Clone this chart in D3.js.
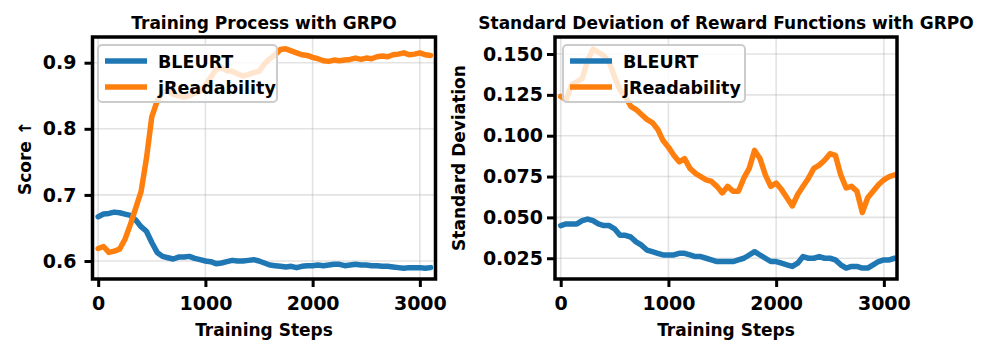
<!DOCTYPE html>
<html>
<head>
<meta charset="utf-8">
<script src="https://cdn.jsdelivr.net/npm/d3@7"></script>
<style>
  html, body { margin: 0; padding: 0; background: #ffffff; }
  svg { display: block; font-family: "DejaVu Sans", sans-serif; font-weight: bold; }
</style>
</head>
<body>
<svg id="chart" width="997" height="357"></svg>
<script>
// ---------------- DATA ----------------
const steps = [0, 50, 100, 150, 200, 250, 300, 350, 400, 450, 500, 550, 600, 650, 700, 750, 800, 850, 900, 950,
  1000, 1050, 1100, 1150, 1200, 1250, 1300, 1350, 1400, 1450, 1500, 1550, 1600, 1650, 1700, 1750, 1800, 1850, 1900, 1950,
  2000, 2050, 2100, 2150, 2200, 2250, 2300, 2350, 2400, 2450, 2500, 2550, 2600, 2650, 2700, 2750, 2800, 2850, 2900, 2950,
  3000, 3050, 3100];

const seriesNames = ["BLEURT", "jReadability"];

// Left panel: training score
const scoreBleurt = [0.667, 0.671, 0.672, 0.674, 0.673, 0.671, 0.669, 0.662, 0.652, 0.645, 0.628, 0.613, 0.607, 0.605, 0.603, 0.606, 0.606, 0.607, 0.604, 0.602,
  0.600, 0.599, 0.596, 0.597, 0.599, 0.601, 0.600, 0.600, 0.601, 0.602, 0.600, 0.597, 0.594, 0.593, 0.592, 0.591, 0.592, 0.590, 0.592, 0.593,
  0.593, 0.594, 0.593, 0.594, 0.595, 0.595, 0.593, 0.594, 0.595, 0.594, 0.594, 0.593, 0.593, 0.592, 0.592, 0.591, 0.590, 0.589, 0.590, 0.590,
  0.590, 0.589, 0.590];
const scoreReadability = [0.619, 0.622, 0.613, 0.615, 0.618, 0.633, 0.655, 0.680, 0.705, 0.755, 0.818, 0.842, 0.855, 0.858, 0.852, 0.850, 0.848, 0.850, 0.854, 0.857,
  0.866, 0.878, 0.890, 0.893, 0.888, 0.887, 0.883, 0.880, 0.882, 0.885, 0.887, 0.898, 0.906, 0.912, 0.920, 0.921, 0.918, 0.915, 0.912, 0.911,
  0.908, 0.906, 0.903, 0.902, 0.904, 0.903, 0.904, 0.905, 0.907, 0.905, 0.907, 0.906, 0.909, 0.910, 0.909, 0.912, 0.913, 0.915, 0.912, 0.913,
  0.915, 0.912, 0.911];

// Right panel: standard deviation of reward functions
const stdBleurt = [0.045, 0.046, 0.046, 0.046, 0.048, 0.049, 0.048, 0.046, 0.045, 0.045, 0.043, 0.039, 0.039, 0.038, 0.035, 0.033, 0.030, 0.029, 0.028, 0.027,
  0.027, 0.027, 0.028, 0.028, 0.027, 0.026, 0.026, 0.025, 0.024, 0.023, 0.023, 0.023, 0.023, 0.024, 0.025, 0.027, 0.029, 0.027, 0.025, 0.023,
  0.023, 0.022, 0.021, 0.020, 0.022, 0.026, 0.025, 0.025, 0.026, 0.025, 0.025, 0.024, 0.021, 0.019, 0.020, 0.020, 0.019, 0.019, 0.021, 0.023,
  0.024, 0.024, 0.025];
const stdReadability = [0.124, 0.122, 0.131, 0.133, 0.135, 0.146, 0.153, 0.151, 0.149, 0.145, 0.136, 0.128, 0.124, 0.118, 0.116, 0.113, 0.110, 0.108, 0.104, 0.097,
  0.093, 0.088, 0.084, 0.086, 0.080, 0.077, 0.075, 0.073, 0.072, 0.069, 0.065, 0.069, 0.066, 0.066, 0.074, 0.080, 0.091, 0.086, 0.076, 0.069,
  0.071, 0.067, 0.062, 0.057, 0.064, 0.069, 0.074, 0.080, 0.082, 0.085, 0.089, 0.088, 0.076, 0.068, 0.069, 0.066, 0.053, 0.062, 0.066, 0.070,
  0.073, 0.075, 0.076];

const xTicks = [0, 1000, 2000, 3000];
const scoreTicks = [0.6, 0.7, 0.8, 0.9];
const stdTicks = [0.025, 0.050, 0.075, 0.100, 0.125, 0.150];

const colors = ["#1f77b4", "#ff7f0e"];

// ---------------- DRAW ----------------
const svg = d3.select("#chart");

function panel(cfg) {
  const g = svg.append("g");
  const x = d3.scaleLinear().domain(cfg.xDomain).range([cfg.left, cfg.right]);
  const y = d3.scaleLinear().domain(cfg.yDomain).range([cfg.bottom, cfg.top]);

  // grid
  g.append("g").selectAll("line").data(xTicks).join("line")
    .attr("x1", d => x(d)).attr("x2", d => x(d))
    .attr("y1", cfg.top).attr("y2", cfg.bottom)
    .attr("stroke", "#b0b0b0").attr("stroke-opacity", 0.35).attr("stroke-width", 1.6);
  g.append("g").selectAll("line").data(cfg.yTicks).join("line")
    .attr("x1", cfg.left).attr("x2", cfg.right)
    .attr("y1", d => y(d)).attr("y2", d => y(d))
    .attr("stroke", "#b0b0b0").attr("stroke-opacity", 0.35).attr("stroke-width", 1.6);

  // lines
  const line = d3.line().x((d, i) => x(steps[i])).y(d => y(d));
  cfg.series.forEach((s, k) => {
    g.append("path").datum(s)
      .attr("fill", "none")
      .attr("stroke", colors[k])
      .attr("stroke-width", 5.5)
      .attr("stroke-linejoin", "round")
      .attr("stroke-linecap", "round")
      .attr("d", line);
  });

  // axes
  const xAxis = d3.axisBottom(x).tickValues(xTicks).tickFormat(d3.format("d")).tickSize(8).tickPadding(10);
  const yAxis = d3.axisLeft(y).tickValues(cfg.yTicks).tickFormat(cfg.yFormat).tickSize(8).tickPadding(cfg.yPad);
  const gx = g.append("g").attr("transform", `translate(0,${cfg.bottom})`).call(xAxis);
  const gy = g.append("g").attr("transform", `translate(${cfg.left},0)`).call(yAxis);
  [gx, gy].forEach(a => {
    a.select(".domain").remove();
    a.selectAll(".tick line").attr("stroke", "#000").attr("stroke-width", 3);
    a.selectAll(".tick text").attr("fill", "#000")
      .style("font-family", "'DejaVu Sans', sans-serif").style("font-weight", "bold").style("font-size", "19px");
  });

  // frame
  g.append("rect")
    .attr("x", cfg.left).attr("y", cfg.top)
    .attr("width", cfg.right - cfg.left).attr("height", cfg.bottom - cfg.top)
    .attr("fill", "none").attr("stroke", "#000").attr("stroke-width", 3.5);

  // title
  g.append("text")
    .attr("x", (cfg.left + cfg.right) / 2).attr("y", cfg.top - 8)
    .attr("text-anchor", "middle").style("font-size", "17px")
    .text(cfg.title);

  // x label
  g.append("text")
    .attr("x", (cfg.left + cfg.right) / 2).attr("y", 336)
    .attr("text-anchor", "middle").style("font-size", "17px")
    .text("Training Steps");

  // y label
  g.append("text")
    .attr("transform", `translate(${cfg.yLabelX},${(cfg.top + cfg.bottom) / 2}) rotate(-90)`)
    .attr("text-anchor", "middle").style("font-size", "17px")
    .text(cfg.yLabel);

  // legend
  const lg = g.append("g");
  lg.append("rect")
    .attr("x", cfg.legendX).attr("y", 45)
    .attr("width", cfg.legendW).attr("height", 57)
    .attr("rx", 4).attr("ry", 4)
    .attr("fill", "#ffffff").attr("fill-opacity", 0.8)
    .attr("stroke", "#cccccc").attr("stroke-width", 2);
  seriesNames.forEach((name, k) => {
    const yy = 61 + k * 26;
    lg.append("line")
      .attr("x1", cfg.legendX + 7).attr("x2", cfg.legendX + 49)
      .attr("y1", yy).attr("y2", yy)
      .attr("stroke", colors[k]).attr("stroke-width", 5.5);
    lg.append("text")
      .attr("x", cfg.legendX + 60).attr("y", yy + 6.5)
      .style("font-size", "17.5px")
      .text(name);
  });
}

panel({
  left: 92.5, right: 435.5, top: 37, bottom: 279,
  xDomain: [-53, 3146], yDomain: [0.5728, 0.9389],
  yTicks: scoreTicks, yFormat: d3.format(".1f"), yPad: 8,
  series: [scoreBleurt, scoreReadability],
  title: "Training Process with GRPO",
  yLabel: "Score \u2191", yLabelX: 31,
  legendX: 98, legendW: 179
});

panel({
  left: 555, right: 897, top: 37, bottom: 279,
  xDomain: [-53, 3122], yDomain: [0.0123, 0.1604],
  yTicks: stdTicks, yFormat: d3.format(".3f"), yPad: 4,
  series: [stdBleurt, stdReadability],
  title: "Standard Deviation of Reward Functions with GRPO",
  yLabel: "Standard Deviation", yLabelX: 465,
  legendX: 563, legendW: 182
});
</script>
</body>
</html>
